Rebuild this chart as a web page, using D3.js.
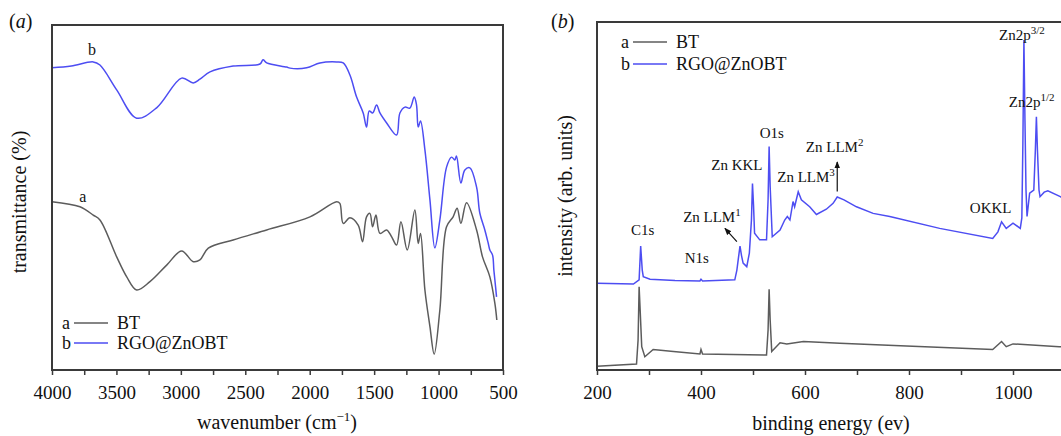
<!DOCTYPE html>
<html>
<head>
<meta charset="utf-8">
<script src="https://cdn.jsdelivr.net/npm/d3@7"></script>
<style>
  body { margin: 0; background: #fff; }
  text { font-family: "Liberation Serif", "Times New Roman", serif; fill: #111; }
</style>
</head>
<body>
<svg id="chart" width="1061" height="436"></svg>
<script>
// (a) FTIR, [wavenumber, transmittance]
const ftirBT = [
  [4000, 48.8], [3783, 47.3], [3680, 44.9], [3628, 43.5], [3498, 32.8], [3420, 27.0],
  [3343, 23.2], [3240, 25.6], [3110, 30.4], [2994, 34.5], [2904, 31.4], [2852, 31.9],
  [2787, 35.3], [2594, 37.7], [2334, 40.6], [1998, 44.4], [1791, 48.8], [1766, 48.3],
  [1740, 42.5], [1688, 44.1], [1624, 42.0], [1590, 37.2], [1559, 44.4], [1533, 45.4],
  [1512, 41.5], [1486, 44.9], [1455, 39.6], [1403, 40.6], [1364, 38.6], [1326, 36.2],
  [1292, 43.0], [1243, 34.8], [1184, 46.4], [1158, 36.7], [1140, 39.6], [1106, 23.2],
  [1067, 12.6], [1034, 4.6], [990, 17.4], [938, 41.5], [887, 44.4], [856, 46.9],
  [827, 42.5], [783, 48.5], [705, 40.6], [659, 32.8], [602, 27.0], [563, 19.3], [548, 14.5]
];
const ftirRGO = [
  [4000, 87.6], [3850, 88.1], [3680, 89.3], [3628, 88.4], [3498, 81.2], [3343, 73.0],
  [3188, 76.0], [2994, 84.6], [2904, 83.2], [2852, 84.3], [2774, 86.4], [2594, 88.1],
  [2386, 88.7], [2362, 89.9], [2334, 89.0], [2179, 87.8], [2153, 87.5], [2024, 87.6],
  [1921, 89.0], [1791, 89.3], [1740, 89.0], [1688, 85.5], [1636, 79.1], [1585, 74.5],
  [1559, 70.4], [1538, 75.1], [1512, 74.5], [1481, 76.8], [1455, 74.5], [1403, 71.6],
  [1326, 68.1], [1300, 74.5], [1261, 76.2], [1223, 75.9], [1189, 79.1], [1171, 76.8],
  [1158, 70.4], [1140, 72.2], [1106, 63.8], [1067, 49.3], [1029, 35.4], [990, 43.5],
  [938, 58.8], [899, 61.7], [874, 60.9], [861, 62.0], [827, 54.2], [796, 58.0],
  [757, 58.6], [705, 53.0], [680, 45.5], [641, 40.6], [615, 36.8], [602, 34.8],
  [581, 33.3], [571, 29.0], [563, 26.1], [550, 21.2]
];
const ftirTicks = d3.range(500, 4001, 250);
const ftirTickLabels = [500, 1000, 1500, 2000, 2500, 3000, 3500, 4000];

// (b) XPS survey, [binding energy, intensity]
const xpsBT = [
  [200, 1.1], [276, 1.7], [279, 8.6], [281, 23.9], [283, 17.2], [286, 6.7], [292, 3.8],
  [308, 5.9], [347, 5.3], [398, 4.6], [400, 5.9], [403, 4.6], [526, 4.3], [529, 11.5],
  [531, 23.2], [533, 14.4], [536, 5.3], [552, 7.8], [565, 7.5], [597, 8.2], [667, 7.7],
  [795, 6.9], [961, 5.9], [978, 8.2], [987, 6.7], [1000, 7.5], [1089, 6.7], [1100, 6.6]
];
const xpsRGO = [
  [200, 24.9], [270, 24.7], [281, 25.9], [284, 35.6], [287, 28.7], [289, 26.8], [302, 26.1],
  [350, 25.7], [398, 25.6], [400, 26.1], [403, 25.6], [465, 25.9], [469, 28.7], [472, 32.2],
  [475, 35.6], [478, 32.8], [481, 30.7], [488, 29.7], [493, 33.6], [497, 43.1], [499, 53.6],
  [501, 47.4], [503, 39.3], [513, 37.4], [526, 37.4], [529, 48.9], [531, 64.2], [533, 52.7],
  [537, 38.3], [552, 40.2], [561, 43.1], [566, 44.1], [571, 43.1], [577, 48.4], [580, 46.9],
  [587, 51.2], [593, 48.9], [609, 46.9], [622, 44.7], [641, 46.2], [654, 47.9], [662, 49.7],
  [675, 48.9], [699, 46.9], [731, 45.0], [763, 44.1], [859, 40.7], [961, 37.8], [971, 39.7],
  [978, 42.6], [987, 40.7], [1000, 42.2], [1014, 40.7], [1017, 43.7], [1019, 65.1],
  [1021, 94.8], [1023, 71.8], [1025, 51.7], [1027, 44.1], [1032, 50.8], [1040, 51.7],
  [1043, 63.2], [1045, 72.8], [1047, 63.2], [1050, 51.7], [1052, 49.8], [1060, 51.1],
  [1067, 51.5], [1091, 49.8], [1100, 49.1]
];
const xpsTicks = d3.range(200, 1101, 100);
const xpsTickLabels = [200, 400, 600, 800, 1000];
// peak labels: [text, superscript, energy, intensity]
const xpsPeaks = [
  ["C1s", "", 288, 38.8],
  ["N1s", "", 392, 30.7],
  ["Zn LLM", "1", 421, 42.5],
  ["Zn KKL", "", 469, 57.5],
  ["O1s", "", 536, 66.7],
  ["Zn LLM", "3", 602, 54.0],
  ["Zn LLM", "2", 657, 62.6],
  ["OKKL", "", 957, 45.1],
  ["Zn2p", "3/2", 1017, 94.8],
  ["Zn2p", "1/2", 1036, 75.6]
];

const blue = "#4d4df2", gray = "#5c5c5c", frame = "#3a3a3a";
const serif = "'Liberation Serif', 'Times New Roman', serif";
const svg = d3.select("#chart");
svg.append("defs").append("marker")
  .attr("id", "arr").attr("viewBox", "0 0 10 10").attr("refX", 9).attr("refY", 5)
  .attr("markerWidth", 6).attr("markerHeight", 6).attr("orient", "auto")
  .append("path").attr("d", "M0,1 L10,5 L0,9 Z").attr("fill", "#111");

function panel(o) {
  const g = svg.append("g");
  const x = d3.scaleLinear().domain(o.xDomain).range([o.left, o.right]);
  const y = d3.scaleLinear().domain([0, 100]).range([o.bottom, o.top]);

  const line = d3.line().x(d => x(d[0])).y(d => y(d[1])).curve(o.curve);
  g.append("path").datum(o.series[0]).attr("d", line)
    .attr("fill", "none").attr("stroke", gray).attr("stroke-width", 1.5);
  g.append("path").datum(o.series[1]).attr("d", line)
    .attr("fill", "none").attr("stroke", blue).attr("stroke-width", 1.5);

  g.append("rect").attr("x", o.left).attr("y", o.top)
    .attr("width", o.right - o.left).attr("height", o.bottom - o.top)
    .attr("fill", "none").attr("stroke", frame).attr("stroke-width", 2);

  const axis = d3.axisBottom(x).tickValues(o.ticks).tickSize(5)
    .tickFormat(d => o.labels.includes(d) ? d : "");
  const ax = g.append("g").attr("transform", `translate(0,${o.bottom})`).call(axis)
    .attr("font-family", serif).attr("font-size", 19);
  ax.select(".domain").remove();
  ax.selectAll("line").attr("stroke", frame).attr("stroke-width", 1.5);
  ax.selectAll("text").attr("dy", null).attr("y", 29).attr("fill", "#111");

  g.append("text").attr("x", o.labelX).attr("y", 28).attr("font-size", 20)
    .html(`(<tspan font-style="italic">${o.name}</tspan>)`);
  return { g, x, y };
}

// ---- (a)
const a = panel({
  name: "a", xDomain: [4000, 500], left: 52, right: 503, top: 25, bottom: 370,
  series: [ftirBT, ftirRGO], ticks: ftirTicks, labels: ftirTickLabels, labelX: 9,
  curve: d3.curveCatmullRom.alpha(0.5)
});
a.g.append("text").attr("x", 277).attr("y", 429).attr("font-size", 20).attr("text-anchor", "middle")
  .html('wavenumber (cm<tspan dy="-8" font-size="13">−1</tspan><tspan dy="8">)</tspan>');
a.g.append("text").attr("transform", "translate(26,202) rotate(-90)").attr("font-size", 20)
  .attr("text-anchor", "middle").text("transmittance (%)");
a.g.append("text").attr("x", a.x(3690)).attr("y", a.y(91.3)).attr("font-size", 16)
  .attr("text-anchor", "middle").text("b");
a.g.append("text").attr("x", a.x(3760)).attr("y", a.y(48.6)).attr("font-size", 16)
  .attr("text-anchor", "middle").text("a");

function legend(g, lx, ly, gap) {
  [["a", gray, "BT"], ["b", blue, "RGO@ZnOBT"]].forEach((r, i) => {
    const yy = ly + i * gap;
    g.append("text").attr("x", lx).attr("y", yy + 6).attr("font-size", 18).text(r[0]);
    g.append("line").attr("x1", lx + 12).attr("x2", lx + 46).attr("y1", yy).attr("y2", yy)
      .attr("stroke", r[1]).attr("stroke-width", 1.5);
    g.append("text").attr("x", lx + 55).attr("y", yy + 6).attr("font-size", 18).text(r[2]);
  });
}
legend(a.g, 62, 323, 20);

// ---- (b)
const b = panel({
  name: "b", xDomain: [200, 1100], left: 597, right: 1065, top: 22, bottom: 370,
  series: [xpsBT, xpsRGO], ticks: xpsTicks, labels: xpsTickLabels, labelX: 551,
  curve: d3.curveLinear
});
b.g.append("text").attr("x", 831).attr("y", 430).attr("font-size", 20).attr("text-anchor", "middle")
  .text("binding energy (ev)");
b.g.append("text").attr("transform", "translate(572,196) rotate(-90)").attr("font-size", 20)
  .attr("text-anchor", "middle").text("intensity (arb. units)");
legend(b.g, 621, 42, 22);

xpsPeaks.forEach(p => {
  const t = b.g.append("text").attr("x", b.x(p[2])).attr("y", b.y(p[3]))
    .attr("font-size", 15).attr("text-anchor", "middle");
  t.append("tspan").text(p[0]);
  if (p[1]) t.append("tspan").attr("dy", -6).attr("font-size", 11).text(p[1]);
});
// arrows for Zn LLM1 and Zn LLM2
b.g.append("line").attr("x1", b.x(469)).attr("y1", b.y(36.9)).attr("x2", b.x(446)).attr("y2", b.y(40.7))
  .attr("stroke", "#111").attr("stroke-width", 1.2).attr("marker-end", "url(#arr)");
b.g.append("line").attr("x1", b.x(662)).attr("y1", b.y(51.3)).attr("x2", b.x(662)).attr("y2", b.y(59.8))
  .attr("stroke", "#111").attr("stroke-width", 1.2).attr("marker-end", "url(#arr)");
</script>
</body>
</html>
